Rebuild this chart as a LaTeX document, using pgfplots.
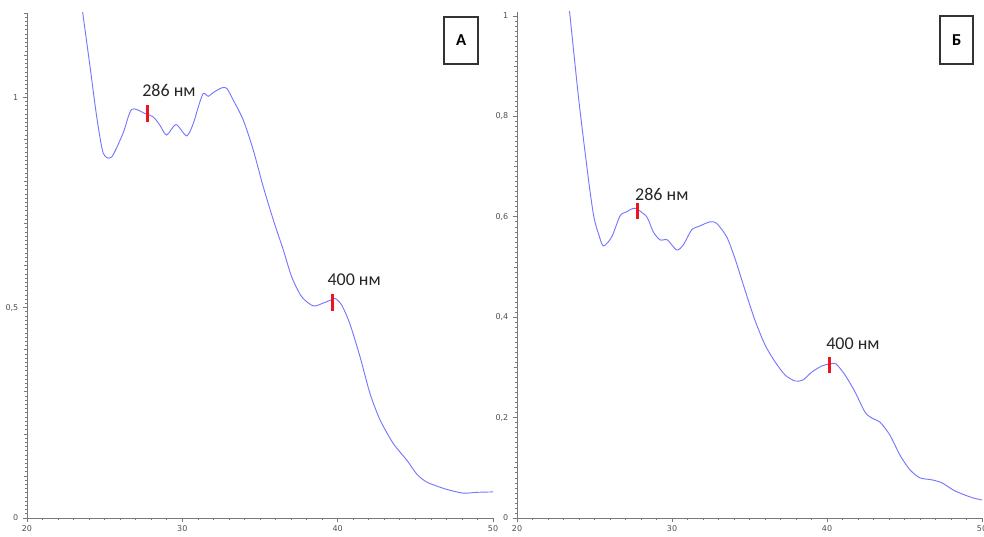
\documentclass[border=0pt]{standalone}
\usepackage{fontspec}
\setmainfont{Carlito}
\newfontfamily\tickfont{DejaVu Sans}
\usepackage{pgfplots}
\pgfplotsset{compat=1.18}
\usepackage{pgfplotstable}

\definecolor{spec}{RGB}{118,118,255}
\definecolor{marker}{RGB}{236,20,30}
\definecolor{axisgray}{RGB}{120,120,120}
\definecolor{labelgray}{RGB}{80,80,80}

% spectrum A
\pgfplotstableread{
x y
23.48 1.23
24.06 1.072
24.49 0.953
24.91 0.867
25.45 0.858
26.18 0.914
26.74 0.971
27.60 0.961
28.13 0.953
28.56 0.933
28.99 0.910
29.59 0.935
30.28 0.908
30.71 0.938
31.03 0.977
31.35 1.009
31.67 1.002
31.99 1.011
32.53 1.022
32.86 1.021
33.28 0.993
33.93 0.945
34.57 0.874
35.21 0.787
35.86 0.708
36.50 0.637
37.04 0.573
37.68 0.526
38.43 0.504
39.08 0.511
39.62 0.519
39.83 0.522
40.26 0.506
40.79 0.461
41.44 0.383
42.08 0.296
42.73 0.233
43.58 0.177
44.44 0.138
45.10 0.104
45.70 0.086
46.30 0.077
47.02 0.068
48.09 0.059
48.95 0.061
50.00 0.062
}\specA

% spectrum B
\pgfplotstableread{
x y
23.30 1.03
23.42 1.00
24.00 0.829
24.65 0.665
24.97 0.598
25.26 0.566
25.57 0.542
26.11 0.560
26.65 0.602
27.08 0.610
27.61 0.617
28.37 0.600
28.79 0.570
29.23 0.554
29.70 0.554
30.30 0.534
30.73 0.544
31.27 0.574
31.81 0.582
32.45 0.590
32.88 0.587
33.53 0.560
34.06 0.517
34.71 0.454
35.35 0.394
36.00 0.345
36.65 0.311
37.29 0.285
37.94 0.273
38.45 0.275
39.03 0.291
39.68 0.303
40.19 0.307
40.58 0.307
41.16 0.285
41.81 0.251
42.45 0.211
42.90 0.199
43.42 0.191
44.06 0.165
44.71 0.125
45.35 0.096
46.00 0.080
46.77 0.076
47.42 0.070
48.13 0.056
48.71 0.048
49.42 0.040
50.00 0.036
}\specB

\pgfplotsset{
  spectrum axis/.style={
    scale only axis,
    anchor=south west,
    xmin=20, xmax=50, ymin=0,
    axis x line*=bottom, axis y line*=left,
    axis line style={axisgray, line width=0.7pt, -},
    tick align=outside,
    major tick length=3pt, minor tick length=1.4pt,
    tick style={axisgray, line width=0.5pt},
    xtick={20,30,40,50},
    minor xtick={21,22,...,49},
    /pgf/number format/use comma,
    /pgf/number format/assume math mode=true,
    ticklabel style={font=\tickfont\fontsize{6}{7}\selectfont, text=labelgray},
    xticklabel style={yshift=1pt},
    extra y tick labels={},
    extra y tick style={major tick length=2.3pt},
    clip=true,
  },
  spectrum/.style={color=spec, line width=0.7pt, smooth, tension=0.45},
  peakmark/.style={only marks, mark=|, mark size=6.1pt, color=marker,
    mark options={line width=2.2pt}},
}
\tikzset{
  peaklabel/.style={anchor=base west, inner sep=0pt,
    font=\fontsize{13.5}{15}\selectfont, text=black!85},
}

\begin{document}
\begin{tikzpicture}
% panel A
\begin{axis}[spectrum axis,
  at={(20.25pt,13.5pt)}, width=349.5pt, height=378.75pt,
  ymax=1.2,
  ytick={0,0.5,1},
  extra y ticks={0.1,0.2,0.3,0.4,0.6,0.7,0.8,0.9,1.1,1.2},
  minor ytick={0,0.01,...,1.2},
]
\addplot[spectrum] table[x=x, y=y] {\specA};
\addplot[peakmark] coordinates {(27.76,0.961) (39.66,0.512)};
\node[peaklabel] at (axis cs:27.41,1.001) {286 нм};
\node[peaklabel] at (axis cs:39.33,0.553) {400 нм};
\end{axis}

% panel B
\begin{axis}[spectrum axis,
  at={(387.75pt,13.5pt)}, width=348.75pt, height=379.5pt,
  ymax=1.008,
  ytick={0,0.2,0.4,0.6,0.8,1},
  extra y ticks={0.1,0.3,0.5,0.7,0.9},
  minor ytick={0,0.01,...,1.0},
]
\addplot[spectrum] table[x=x, y=y] {\specB};
\addplot[peakmark] coordinates {(27.76,0.611) (40.19,0.305)};
\node[peaklabel] at (axis cs:27.61,0.633) {286 нм};
\node[peaklabel] at (axis cs:39.94,0.335) {400 нм};
\end{axis}

% panel letters
\draw[line width=1.4pt, black!80] (333pt,353.8pt) rectangle (358.7pt,389.5pt);
\node[font=\bfseries\fontsize{12.5}{14}\selectfont] at (345.85pt,371.6pt) {А};
\draw[line width=1.4pt, black!80] (705pt,354pt) rectangle (730pt,390pt);
\node[font=\bfseries\fontsize{12.5}{14}\selectfont] at (717.5pt,372pt) {Б};

\pgfresetboundingbox
\useasboundingbox (0,0) rectangle (738pt,402pt);
\end{tikzpicture}
\end{document}
